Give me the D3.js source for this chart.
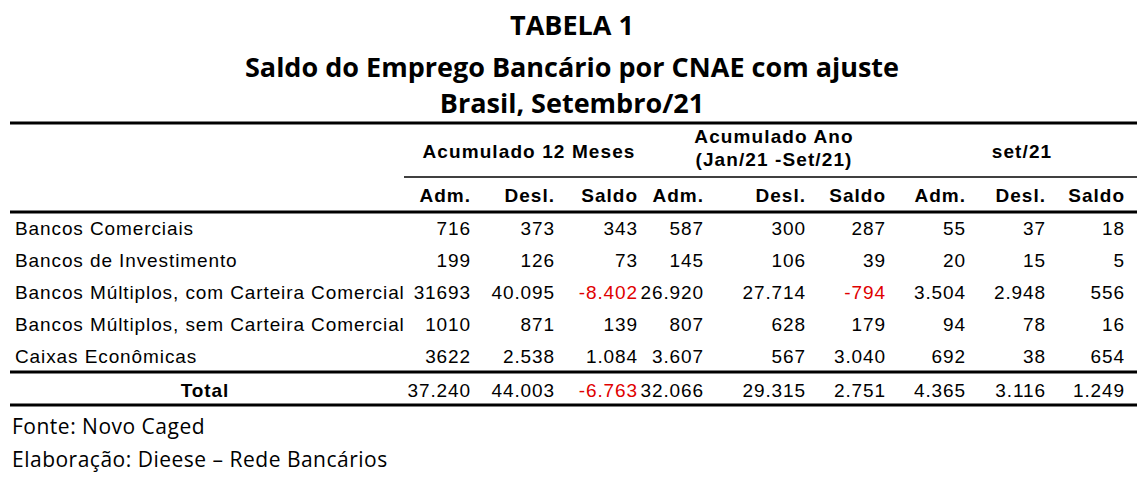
<!DOCTYPE html><html><head><meta charset="utf-8"><script src="https://cdn.jsdelivr.net/npm/d3@7"></script>
<style>body{margin:0;background:#fff}</style></head><body><svg id="c" width="1147" height="477"></svg><script>
const titles=["TABELA 1","Saldo do Emprego Bancário por CNAE com ajuste","Brasil, Setembro/21"];
const groups=[["Acumulado 12 Meses"],["Acumulado Ano","(Jan/21 -Set/21)"],["set/21"]];
const subCols=["Adm.","Desl.","Saldo","Adm.","Desl.","Saldo","Adm.","Desl.","Saldo"];
const categories=["Bancos Comerciais","Bancos de Investimento","Bancos Múltiplos, com Carteira Comercial","Bancos Múltiplos, sem Carteira Comercial","Caixas Econômicas"];
const values=[
["716","373","343","587","300","287","55","37","18"],
["199","126","73","145","106","39","20","15","5"],
["31693","40.095","-8.402","26.920","27.714","-794","3.504","2.948","556"],
["1010","871","139","807","628","179","94","78","16"],
["3622","2.538","1.084","3.607","567","3.040","692","38","654"]];
const totalLabel="Total";
const totals=["37.240","44.003","-6.763","32.066","29.315","2.751","4.365","3.116","1.249"];
const footer=["Fonte: Novo Caged","Elaboração: Dieese – Rede Bancários"];

const svg=d3.select("#c");
const F="Liberation Sans, Arial, sans-serif", T="Open Sans, sans-serif";
const colRight=[471,555,638,704,806,886,966,1046,1125];
const x=d3.scaleOrdinal().domain(d3.range(9)).range(colRight);
const y=d3.scaleBand().domain(d3.range(categories.length)).range([212,372]);
const txt=(xx,yy,t,o={})=>svg.append("text").attr("x",xx).attr("y",yy).attr("font-family",o.f||F)
 .attr("font-size",o.s||19).attr("font-weight",o.b?"bold":"normal").attr("letter-spacing",o.ls??0.9)
 .attr("text-anchor",o.a||"start").attr("fill",o.c||"#000").text(t);
titles.forEach((t,i)=>txt(572,[35,77,113][i],t,{f:T,b:1,s:27,ls:0,a:"middle"}));
const line=(y0,w,x0=10,x1=1137)=>svg.append("line").attr("x1",x0).attr("x2",x1).attr("y1",y0).attr("y2",y0).attr("stroke","#000").attr("stroke-width",w);
line(123,3);line(177,1.5,404);line(212,3);line(372,3);line(405,3);
const gCenters=[529,774,1022];
groups.forEach((g,i)=>g.forEach((t,j)=>txt(gCenters[i],g.length==1?158:[143,166][j],t,{b:1,a:"middle",ls:1.1})));
subCols.forEach((t,i)=>txt(x(i),202,t,{b:1,a:"end",ls:1}));
const col=v=>v.startsWith("-")?"#e00000":"#000";
categories.forEach((c,r)=>{const yy=y(r)+y.bandwidth()/2+7;
 txt(15,yy,c);
 values[r].forEach((v,i)=>txt(x(i),yy,v,{a:"end",c:col(v)}));});
txt(205,397,totalLabel,{b:1,a:"middle"});
totals.forEach((v,i)=>txt(x(i),397,v,{a:"end",c:col(v)}));
footer.forEach((t,i)=>txt(12,[434,467][i],t,{f:T,s:21,ls:0.5}));
</script></body></html>
